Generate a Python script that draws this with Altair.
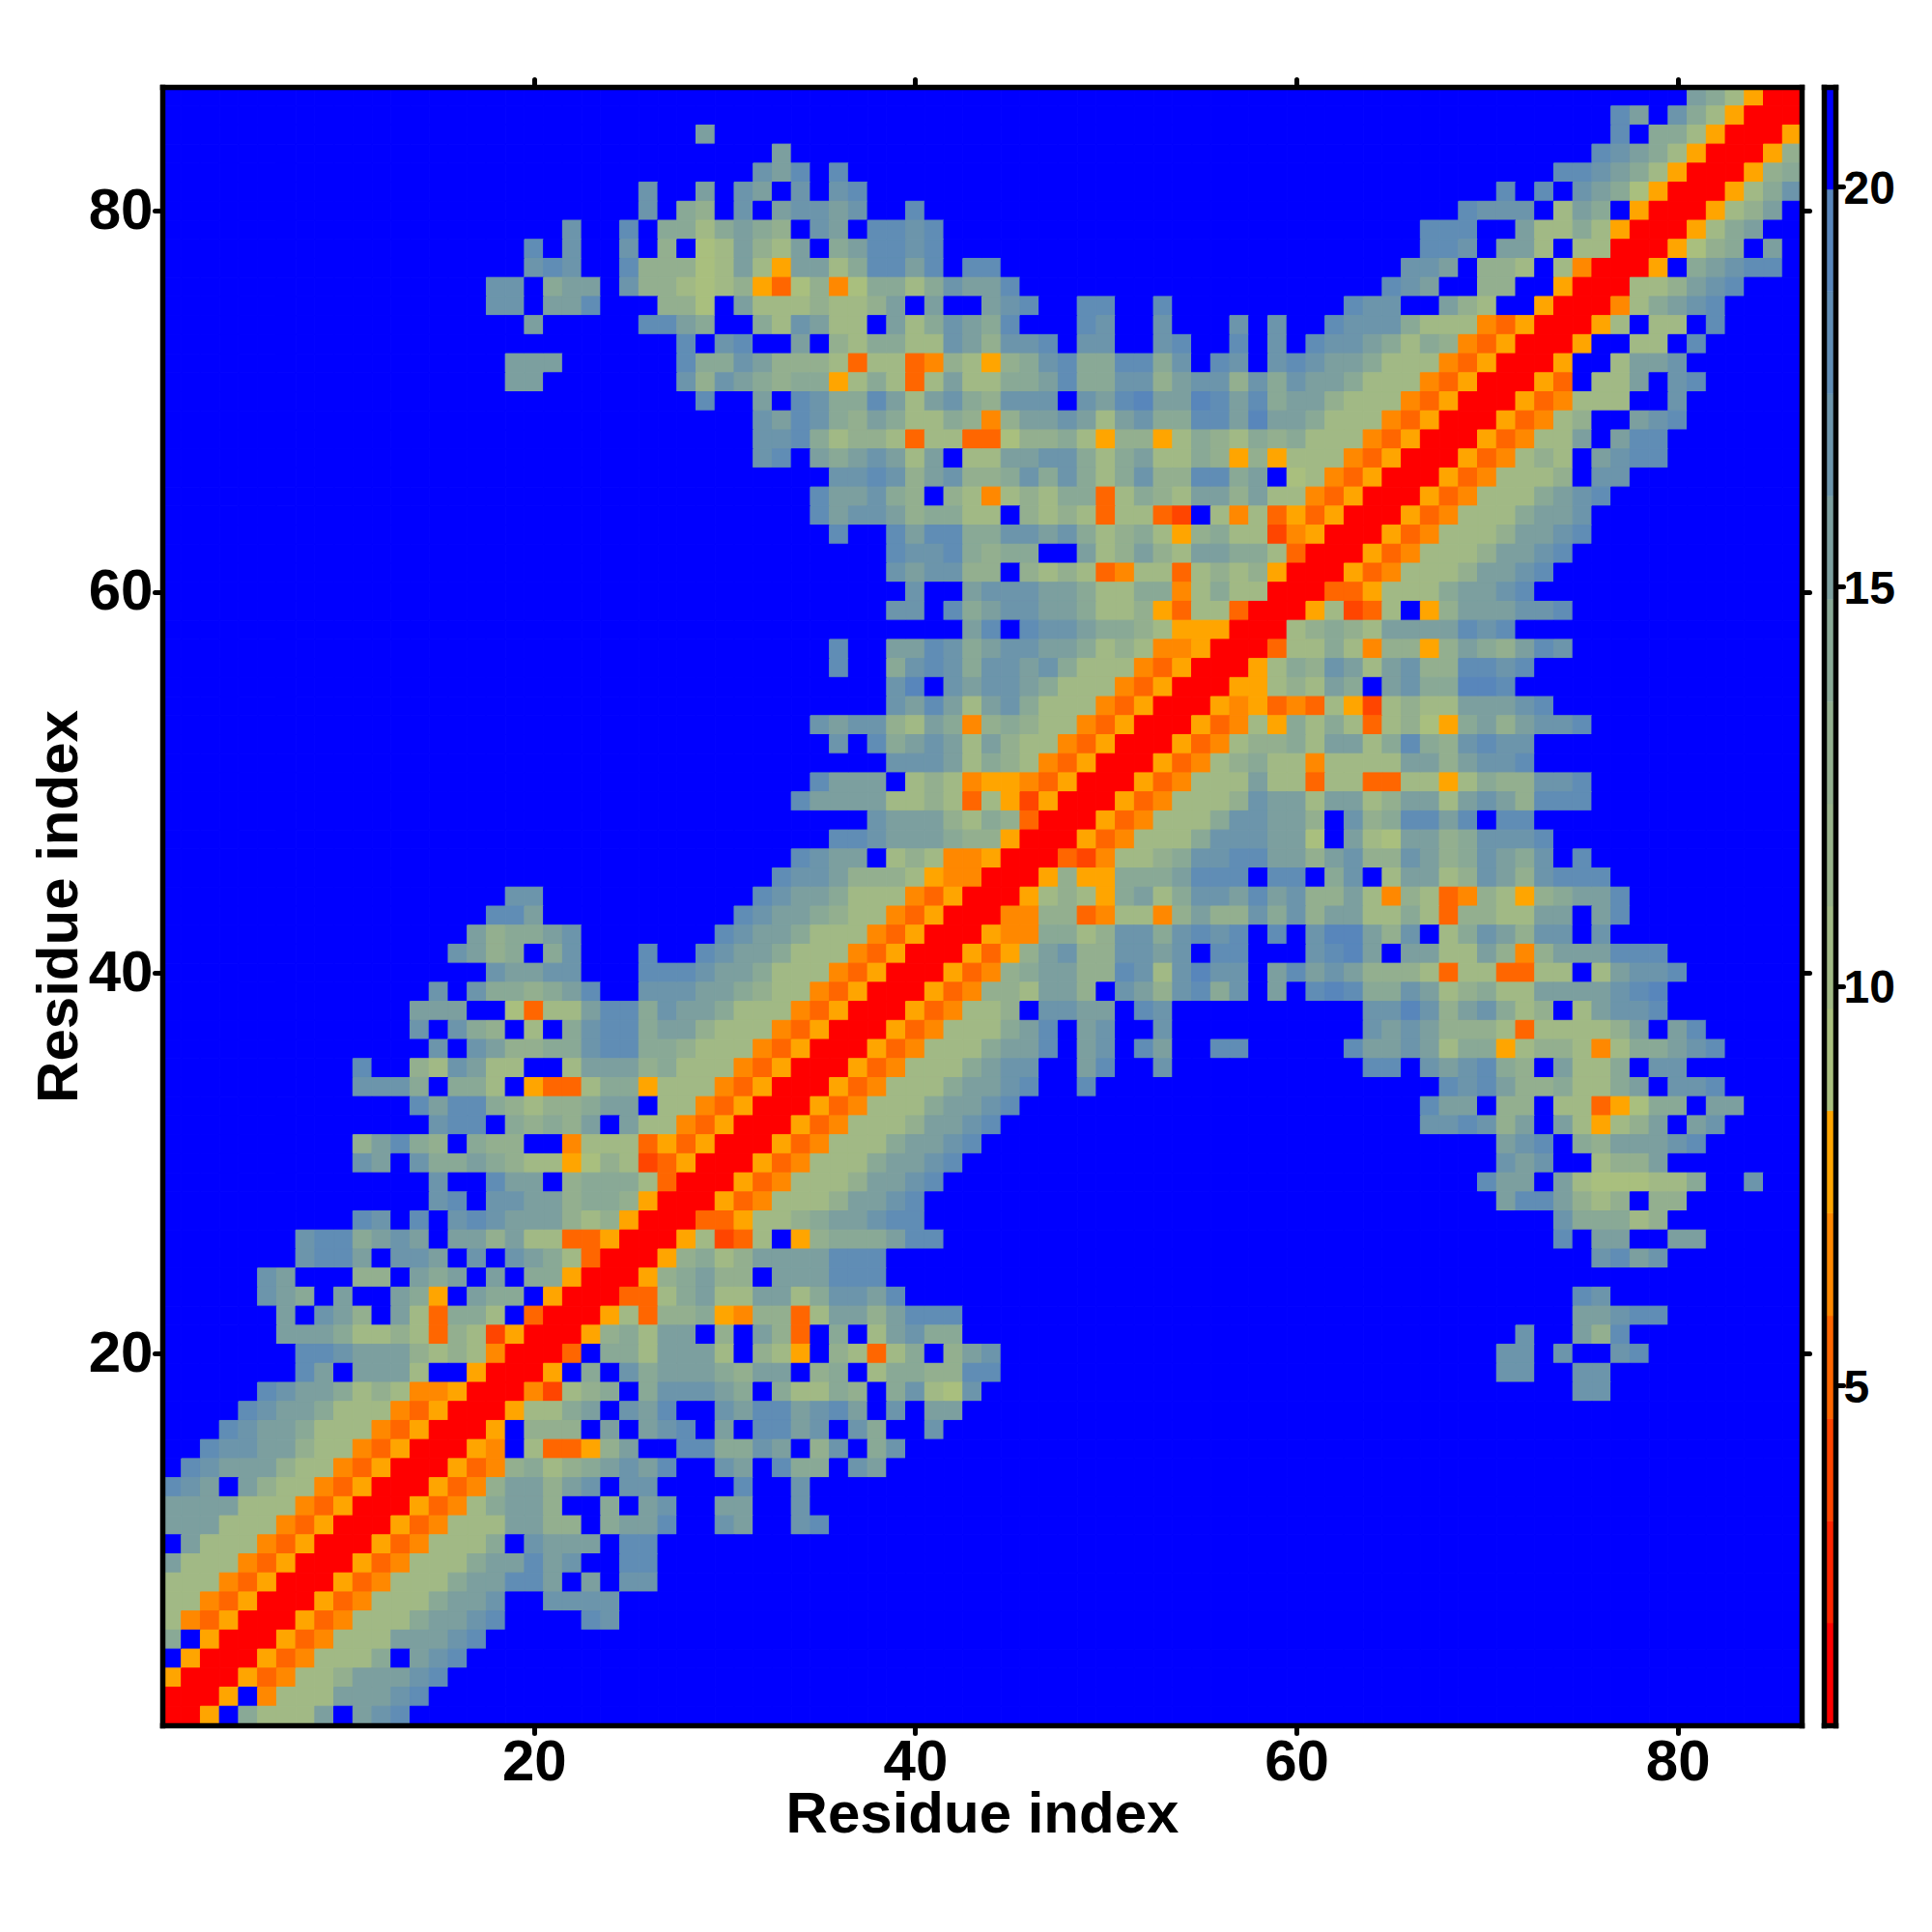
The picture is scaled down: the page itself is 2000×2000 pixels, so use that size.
import altair as alt
import pandas as pd

# Level codes per residue pair; rows run from the top of the map (y = 86) down.
# Each entry: (first column, codes). Anything not listed is the blue "far" level.
ROWS = [
 [(81,"a97500")],
 [(77,"ca.b975000")],
 [(29,"a"),(77,"c.99750005")],
 [(33,"a"),(76,"cba97500058")],
 [(32,"bac.c"),(74,"ccba975000589")],
 [(26,"b..a.ba.b.bc"),(71,"c.c.ba965000579b")],
 [(26,"b.98.b.abbab"),(40,"c"),(69,"cbbb.7a9.5000578a")],
 [(22,"b"),(25,"c.9979a98.ba.ccbc"),(67,"ccc..a77975000579a")],
 [(20,"c.b"),(25,"b.8.67a87a.9accbc"),(67,"ccb.aa7.770005689.a")],
 [(20,"bcb..c88867a75aa79ccac.cc"),(66,"bba.887.740005.9abcc")],
 [(18,"bb.9aa.b8876785368469979baac"),(65,"cba..88..5000778abc")],
 [(18,"bb.aac...886"),(30,".a7778778a.a..abc"),(49,"cc"),(53,"c"),(63,"cbb..a87..5000479abc")],
 [(20,"a"),(26,"cca9"),(32,"97ba77.a79ba9c"),(49,"cb"),(53,"b"),(57,"b"),(59,"b..cbbb977743500057.77.c")],
 [(28,"c."),(30,"bc..a.879977ba8bbc"),(49,"bb"),(53,"bc"),(57,"c"),(59,"b.cbba97984350005..77.c")],
 [(19,"aaa"),(28,"c9"),(30,"9ba88873773487589bc99cc9b.cb."),(59,"bcbaa97774350005..7aab")],
 [(19,"aa"),(28,"b8"),(30,"ba9899579737a7799ac99bb8abb8b"),(59,"9baa977743500053.77a.bc")],
 [(29,"c"),(32,"a.cb99ca7ab98bbb.bacdaadcac"),(59,"9aa8777435000534777..b")],
 [(32,"bacb98a9779848aaba7ab99ccad"),(59,"aa977743500053478..abc")],
 [(32,"bbc978873773368897588579879"),(59,"8977743500053477a.acc")],
 [(32,"bc.a9aba7a.77aabb979a779858"),(59,"5777435000534787.abcc")],
 [(36,"bbcb8ab889b9b979b88cc9a"),(59,".674350005347778.bb")],
 [(35,"caab98.8747879937987aa8a"),(59,"774350005347779abc")],
 [(35,"cabba89977.878737732.747"),(59,"35350005347779aab")],
 [(36,"c"),(39,"cacc99bbab9789758977"),(59,"2450005347778aabc")],
 [(39,"cbbc9899..a78a87aa99"),(59,"730005347778aabc")],
 [(39,"babb88.8787347737878"),(59,"50005347778aabc")],
 [(40,"b..abbbaa9779947977"),(59,"0003357779aabc")],
 [(39,"bb.c9abbaa9778537730"),(59,"0057237.58aaabbc")],
 [(43,"ac.cbba998755500"),(59,"078987aaaacbc")],
 [(36,"c"),(39,"aacb9abbaa9787445000"),(59,"3779748858a98acb")],
 [(36,"c"),(39,"9bcb9bbab97774350005"),(59,"798ba7ab88ccbc")],
 [(39,"bd.babba977743500055"),(59,"787a9.ab99ddc")],
 [(39,"baca7ab9777435000545"),(59,"3437527877aaabc")],
 [(35,"babb87a94898774350005347"),(59,"59797378659a8abbc")],
 [(36,"b"),(38,"c9aba7a87743500053478"),(59,"897aa79c98bcbb")],
 [(39,"bbba7987435000534789"),(59,"7747777aa8abbc")],
 [(35,"caaa.787455435000534777a"),(59,"77377337757988bbc")],
 [(34,"caaaa7787375250005347778b"),(59,"aa7aa78aa7aba8ccc")],
 [(38,"baaa879830005347779bb"),(59,"aa8.b89ccac.cc")],
 [(36,"ccbaaa98850005347779bbb"),(59,"aa6.a76aa89bbbc")],
 [(34,"cbaa.7874450003247789bbcc"),(59,"aa8ab88ba89ba9b"),(75,"c")],
 [(33,"cbba88875440005855999accc."),(59,"cc.9b.7aa78ba8bccc")],
 [(19,"bb"),(32,"cbaa9777435000578759a79bbac"),(59,"ab88a74873487589aac")],
 [(18,"cca"),(31,"cbaa98774350004488347748a88b"),(59,"9b8aa779738877aa.ac")],
 [(17,"a899ab"),(30,"cbaa97774350005449978bb9bcbc."),(59,"c.bdda8b.79ba8bb.b")],
 [(16,"ba89.9b"),(26,"c..c"),(30,"baa97774350005358ab88bbab.cc"),(61,"bcda.aa77a848aaaccc")],
 [(18,"baabb"),(26,"cccb"),(30,"aa977743500053489aa88cb7bdbb"),(59,"acaba88873773377.7abbc")],
 [(15,"b.b9989ac"),(26,"bbba"),(30,"a9877435000534887aa8.ba8bc9b"),(59,"a.cdc99ba78977aaaabcd")],
 [(14,"aaa..6377acc9baa"),(30,"9777435000534778.bbaa.cb"),(64,"bbdb8ab978.7abbc")],
 [(14,"b.b98.7.9bcc9aa8"),(30,"7774350005347779ac.ab..b"),(64,"baba8887377778a.ac")],
 [(15,"b.ba8899bcc9987"),(30,"774350005347779aac.ab.ca"),(56,"cc"),(63,"caaba799578874799abc")],
 [(11,"c"),(14,"87ba77..7aaa8977"),(30,"74350005347779abb"),(49,"ac"),(53,"b"),(64,"cc.babc98.a779.bb")],
 [(11,"bbb9.997"),(19,".5337995777"),(30,"4350005347779aabc"),(49,"c"),(68,"cbca889779a.bbc")],
 [(14,"cacc987889aa.774"),(30,"350005347779aabc"),(67,"caa.88.7735699.aa")],
 [(15,"bcc.9898a.a7743"),(30,"50005347778aabc"),(67,"bbcb8a.a7578a.ab")],
 [(11,"8ac98.988..4777"),(26,"3535"),(30,"0005347779aabc"),(71,"abc.98aaabc")],
 [(11,"ba.b99a987756872350"),(30,"005347779aabc"),(71,"bab..788a")],
 [(15,"b..caa.89997300"),(30,"05347778aabc"),(70,"caa.a7666779"),(84,"b")],
 [(15,"bc.bbaa89985000"),(30,"5347778aabc"),(71,"acca878.88")],
 [(11,"cb.c.bcbaaa87850003"),(30,"357789aabcc"),(74,"b99978")],
 [(8,"bcc9aba.aa8a7733500057"),(30,"237.58999acc"),(74,"c.aa..aa")],
 [(8,"bcca.bba.b.ba973000589"),(30,"78aaaaccc"),(76,"bcab")],
 [(6,"ba...88.a9a.a.995000589a"),(30,"88.aaaccc")],
 [(6,"ba9.a..a95.a99.50003379a"),(30,"77aa79bbac"),(75,"cb")],
 [(7,"a.ba8.a73997.3000573889"),(30,"548837aa8accc"),(75,"aabcc")],
 [(7,"aaa97787387250005897aa."),(30,"8.a83.9.7ab99"),(72,"b"),(75,"a8c")],
 [(8,"ccbaaa878740003.997aaa"),(30,"7.875.87379.8ab"),(71,"bb"),(74,"b"),(77,"bc")],
 [(8,"ca.aaa7..50005.9.b9aaa"),(30,"98aa.89.79988cc"),(71,"bb"),(75,"bb")],
 [(6,"cbaa978744500042789.9bbb"),(30,"a9.97798.9b76b"),(75,"bb")],
 [(5,"cbaa97774350005779a.bac"),(30,"baccabca.b.aa")],
 [(4,"cbaa97774350005.888.a.abc."),(30,"a.ccab.b9..b")],
 [(3,"cbbaa87743500054.73358a..cc"),(30,"99ba.8b.9b")],
 [(2,"cbaaa87743500053489789abac"),(30,"ba.c99.ba")],
 [(1,"cba.a8774350005348aa8ab.bb"),(31,"c"),(34,"b")],
 [(1,"aaaa77743500053479aa8..9.ab"),(30,"aa"),(34,"b")],
 [(1,"aaa777435000534777aa88.9aac"),(30,"ba"),(34,"bc")],
 [(1,".a7774350005347779.baaa.cc")],
 [(1,"a7774350005347779aacab..cc")],
 [(1,"7774350005347779aacca.a.bb")],
 [(1,"774350005347779aab"),(21,"bbbb")],
 [(1,"74350005347779aabc"),(23,"cb")],
 [(1,"9.5000534777aaabc")],
 [(1,".50005347779.abc")],
 [(1,"5000534778aaabc")],
 [(1,"0005.4777aaabc")],
 [(1,"005.9777a.abc")],
]

# Distance (Angstrom-like) value represented by each level code
CODE_VALUES = {"0":1.4,"2":3.95,"3":5.2,"4":6.5,"5":7.8,"6":9.1,"7":10.4,"8":12.9,
               "9":14.2,"a":15.5,"b":16.8,"c":18.0,"d":19.3,".":20.6}

BAND_EDGES = [0.75,2.03,3.31,4.59,5.875,7.16,8.44,9.72,11.0,12.28,13.56,14.84,16.13,17.41,18.69,19.97,21.25]
BAND_COLORS = ["#ff0000","#ff2400","#ff4500","#ff6600","#ff8800","#ffa500",
               "#a9bf7e","#a1b985","#99b38b","#93af8f","#89a996","#7c9f9f",
               "#6c95ab","#608db5","#5886bb","#0000ff"]
TICKS = [20,40,60,80]
BAR_TICKS = [5,10,15,20]
N = 86
TITLE = "Residue index"
FONT = "Liberation Sans"

records = []
for r, segments in enumerate(ROWS):
    row = ["."] * N
    for start, codes in segments:
        for k, ch in enumerate(codes):
            row[start - 1 + k] = ch
    y = N - r
    for c, ch in enumerate(row, start=1):
        records.append({"x0": c - 0.5, "x1": c + 0.5, "y0": y - 0.5, "y1": y + 0.5,
                        "v": CODE_VALUES[ch]})
cells = pd.DataFrame(records)

bar = pd.DataFrame({"lo": BAND_EDGES[:-1], "hi": BAND_EDGES[1:],
                    "v": [(a + b) / 2 for a, b in zip(BAND_EDGES[:-1], BAND_EDGES[1:])],
                    "x0": [0] * 16, "x1": [1] * 16})

col = alt.Scale(type="threshold", domain=BAND_EDGES[1:-1], range=BAND_COLORS)
sx = alt.Scale(domain=[0.5, 86.5], nice=False, zero=False)
sy = alt.Scale(domain=[0.5, 86.5], nice=False, zero=False)

frame = dict(domainColor="black", domainWidth=5.5, domainCap="square", zindex=1, grid=False,
             tickColor="black", tickWidth=5, tickSize=8, tickCap="round")
labels = dict(labelFont=FONT, labelFontWeight="bold", labelFontSize=60, labelColor="black",
              titleFont=FONT, titleFontWeight="bold", titleFontSize=60, titleColor="black",
              labelOverlap=False, labelFlush=False)

W = 1697
H = 1696

heat = alt.Chart(cells).mark_rect(strokeWidth=1).encode(
    x=alt.X("x0:Q", scale=sx, axis=alt.Axis(orient="bottom", values=TICKS, title=TITLE, format="d",
                                             labelPadding=1, titlePadding=-5, **frame, **labels)),
    x2="x1:Q",
    y=alt.Y("y0:Q", scale=sy, axis=alt.Axis(orient="left", values=TICKS, title=TITLE, format="d",
                                             labelPadding=2, titlePadding=-1, **frame, **labels)),
    y2="y1:Q",
    color=alt.Color("v:Q", scale=col, legend=None),
    stroke=alt.Stroke("v:Q", scale=col, legend=None),
)
outer = alt.Chart(pd.DataFrame({"x": TICKS, "y": TICKS})).mark_point(opacity=0).encode(
    x=alt.X("x:Q", scale=sx, axis=alt.Axis(orient="top", values=TICKS, title=None, labels=False, **frame)),
    y=alt.Y("y:Q", scale=sy, axis=alt.Axis(orient="right", values=TICKS, title=None, labels=False, **frame)),
)
main = alt.layer(heat, outer).resolve_axis(x="independent", y="independent").properties(width=W, height=H)

bx = alt.Scale(domain=[0, 1], nice=False, zero=False)
by = alt.Scale(domain=[0.75, 21.25], nice=False, zero=False)
plain = dict(domainColor="black", domainWidth=5.5, domainCap="square", zindex=1, grid=False,
             ticks=False, labels=False, title=None)
bar_rect = alt.Chart(bar).mark_rect(strokeWidth=0.5).encode(
    x=alt.X("x0:Q", scale=bx, axis=alt.Axis(orient="bottom", **plain)),
    x2="x1:Q",
    y=alt.Y("lo:Q", scale=by, axis=alt.Axis(orient="left", **plain)),
    y2="hi:Q",
    color=alt.Color("v:Q", scale=col, legend=None),
    stroke=alt.Stroke("v:Q", scale=col, legend=None),
)
bar_outer = alt.Chart(pd.DataFrame({"x": [0, 0, 0, 0], "y": BAR_TICKS})).mark_point(opacity=0).encode(
    x=alt.X("x:Q", scale=bx, axis=alt.Axis(orient="top", **plain)),
    y=alt.Y("y:Q", scale=by, axis=alt.Axis(orient="right", values=BAR_TICKS, title=None, format="d",
                                            labelPadding=0, labelOffset=3, labelFont=FONT, labelFontWeight="bold",
                                            labelFontSize=48, labelColor="black", labelOverlap=False,
                                            labelFlush=False, **frame)),
)
colorbar = alt.layer(bar_rect, bar_outer).resolve_axis(x="independent", y="independent").properties(width=12, height=H)

chart = alt.hconcat(main, colorbar, spacing=8, padding={"left": 22, "top": 71, "right": 0, "bottom": 0}
    ).resolve_scale(color="shared", stroke="shared"
    ).configure_view(stroke=None, fill="#0000ff"
    ).configure(background="white")

chart.save("out.html", embed_options={"renderer": "svg", "actions": False})
